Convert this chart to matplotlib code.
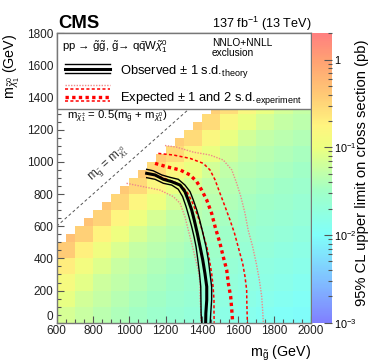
import numpy as np
import matplotlib
matplotlib.use("Agg")
import matplotlib.pyplot as plt
from matplotlib.colors import LinearSegmentedColormap, LogNorm
from matplotlib.patches import Rectangle
from matplotlib.ticker import MultipleLocator, FixedLocator, NullFormatter, LogLocator

plt.rcParams['font.family'] = ['Liberation Sans', 'DejaVu Sans']
plt.rcParams['mathtext.fontset'] = 'custom'
plt.rcParams['mathtext.rm'] = 'Liberation Sans'
plt.rcParams['mathtext.it'] = 'Liberation Sans:italic'
plt.rcParams['mathtext.bf'] = 'Liberation Sans:bold'

# ---------------- data ----------------
nan = np.nan
gluino_edges = np.arange(600, 2001, 50)       # GeV
lsp_edges = np.arange(0, 1401, 50)            # GeV
# log10(upper limit [pb]) on a 100 GeV grid: rows m_LSP = 0..1300, cols m_gluino = 600..1900
log_limit_table = np.array([
    [-1.15, -1.24, -1.33, -1.41, -1.49, -1.56, -1.63, -1.69, -1.75, -1.81, -1.87, -1.92, -1.97, -2.02],
    [-1.03, -1.18, -1.27, -1.35, -1.43, -1.50, -1.57, -1.63, -1.69, -1.75, -1.81, -1.86, -1.91, -1.96],
    [-0.88, -1.06, -1.21, -1.29, -1.37, -1.44, -1.51, -1.57, -1.63, -1.69, -1.75, -1.80, -1.85, -1.90],
    [-0.68, -0.92, -1.10, -1.24, -1.32, -1.39, -1.46, -1.52, -1.58, -1.64, -1.70, -1.75, -1.80, -1.85],
    [-0.42, -0.71, -0.95, -1.12, -1.26, -1.33, -1.40, -1.46, -1.52, -1.58, -1.64, -1.69, -1.74, -1.79],
    [-0.31, -0.45, -0.74, -0.97, -1.14, -1.27, -1.34, -1.40, -1.46, -1.52, -1.58, -1.63, -1.68, -1.73],
    [nan, -0.34, -0.48, -0.76, -0.99, -1.15, -1.28, -1.34, -1.40, -1.46, -1.52, -1.57, -1.62, -1.67],
    [nan, nan, -0.37, -0.50, -0.78, -1.00, -1.16, -1.28, -1.34, -1.40, -1.46, -1.51, -1.56, -1.61],
    [nan, nan, nan, -0.40, -0.53, -0.80, -1.02, -1.17, -1.29, -1.35, -1.41, -1.46, -1.51, -1.56],
    [nan, nan, nan, nan, -0.42, -0.54, -0.81, -1.02, -1.17, -1.29, -1.35, -1.40, -1.45, -1.50],
    [nan, nan, nan, nan, nan, -0.43, -0.55, -0.81, -1.02, -1.17, -1.29, -1.34, -1.39, -1.44],
    [nan, nan, nan, nan, nan, nan, -0.44, -0.55, -0.81, -1.02, -1.17, -1.28, -1.33, -1.38],
    [nan, nan, nan, nan, nan, nan, nan, -0.44, -0.55, -0.81, -1.02, -1.16, -1.27, -1.32],
    [nan, nan, nan, nan, nan, nan, nan, nan, -0.45, -0.56, -0.82, -1.02, -1.16, -1.27],
])
min_mass_gap = 150  # cells shown only if m_LSP(low edge) <= m_gluino(low edge) - gap

obs_x = [1096, 1142, 1188, 1234, 1280, 1307, 1325, 1344, 1358, 1375, 1390, 1405, 1417, 1427, 1427, 1422, 1421]
obs_y = [929, 919, 892, 877, 856, 815, 763, 701, 639, 556, 473, 390, 307, 224, 141, 58, 0]
obs_up_x = [1096, 1132, 1179, 1225, 1270, 1307, 1335, 1353, 1372, 1388, 1406, 1423, 1436, 1445, 1454, 1454, 1449, 1446]
obs_up_y = [954, 945, 919, 904, 892, 856, 815, 763, 701, 639, 556, 473, 390, 307, 224, 141, 58, 0]
obs_dn_x = [1096, 1142, 1188, 1234, 1270, 1294, 1313, 1329, 1344, 1357, 1368, 1378, 1387, 1394, 1395, 1396, 1399]
obs_dn_y = [902, 892, 867, 856, 830, 784, 722, 659, 597, 535, 473, 390, 307, 224, 141, 58, 0]
exp_x = [1142, 1206, 1280, 1335, 1372, 1399, 1427, 1454, 1473, 1500, 1518, 1537, 1546, 1559, 1565, 1570]
exp_y = [991, 970, 950, 919, 877, 825, 763, 680, 597, 494, 410, 328, 245, 162, 79, 0]
exp_up1_x = [1160, 1243, 1335, 1408, 1445, 1473, 1500, 1528, 1555, 1580, 1605, 1625, 1638, 1647, 1648, 1651]
exp_up1_y = [1053, 1043, 1022, 991, 950, 888, 805, 722, 639, 556, 452, 369, 286, 203, 121, 0]
exp_dn1_x = [1110, 1150, 1200, 1250, 1290, 1320, 1345, 1365, 1385, 1405, 1427, 1442, 1454, 1462, 1467, 1467, 1468]
exp_dn1_y = [928, 915, 895, 875, 850, 810, 755, 700, 640, 560, 473, 390, 307, 224, 141, 60, 0]
exp_up2_x = [1197, 1261, 1353, 1445, 1518, 1565, 1592, 1615, 1638, 1655, 1680, 1700, 1717, 1730, 1735, 1739]
exp_up2_y = [1102, 1092, 1061, 1043, 1012, 950, 867, 784, 680, 577, 473, 369, 266, 162, 79, 0]
exp_dn2_x = [985, 1077, 1169, 1243, 1280, 1307, 1325, 1344, 1362, 1380, 1390, 1390, 1394, 1394]
exp_dn2_y = [867, 846, 825, 784, 743, 659, 577, 494, 410, 328, 245, 162, 79, 0]

diag_x = [600, 1330]
diag_y = [600, 1330]

x_ticks = [600, 800, 1000, 1200, 1400, 1600, 1800, 2000]
y_ticks = [0, 200, 400, 600, 800, 1000, 1200, 1400, 1600, 1800]
cb_ticks = [1e-3, 1e-2, 1e-1, 1]
cb_labels = ['10$^{-3}$', '10$^{-2}$', '10$^{-1}$', '1']

# ---------------- figure ----------------
W, H = 374, 363
fig = plt.figure(figsize=(W / 100, H / 100), dpi=100)
ax_l, ax_r, ax_t, ax_b = 56.7, 310.7, 33.3, 322.7
ax = fig.add_axes([ax_l / W, 1 - ax_b / H, (ax_r - ax_l) / W, (ax_b - ax_t) / H])
cax = fig.add_axes([312 / W, 1 - ax_b / H, 20 / W, (ax_b - ax_t) / H])

cmap = LinearSegmentedColormap.from_list('pal', [
    (0.000, (0.50, 0.50, 1.00)),
    (0.151, (0.50, 0.76, 1.00)),
    (0.303, (0.50, 1.00, 0.98)),
    (0.454, (0.63, 1.00, 0.78)),
    (0.606, (0.93, 1.00, 0.50)),
    (0.682, (1.00, 0.96, 0.50)),
    (0.788, (1.00, 0.79, 0.46)),
    (0.909, (1.00, 0.63, 0.45)),
    (1.000, (1.00, 0.50, 0.50)),
])
norm = LogNorm(vmin=1e-3, vmax=2.0)

limits = 10 ** np.kron(log_limit_table, np.ones((2, 2)))
A, B = np.meshgrid(gluino_edges[:-1], lsp_edges[:-1])
visible = B <= A - min_mass_gap
limits = np.ma.masked_where(~visible | ~np.isfinite(limits), limits)
mesh = ax.pcolormesh(gluino_edges, lsp_edges, limits, cmap=cmap, norm=norm,
                     shading='flat', edgecolors='none', antialiased=False, zorder=1)

pale = '#ef8a8a'
ax.plot(exp_dn2_x, exp_dn2_y, color=pale, lw=1.0, ls=(0, (1, 1)), zorder=3)
ax.plot(exp_up2_x, exp_up2_y, color=pale, lw=1.0, ls=(0, (1, 1)), zorder=3)
ax.plot(exp_dn1_x, exp_dn1_y, color='red', lw=1.1, ls=(0, (2, 1.5)), zorder=3)
ax.plot(exp_up1_x, exp_up1_y, color='red', lw=1.1, ls=(0, (2, 1.5)), zorder=3)
ax.plot(obs_dn_x, obs_dn_y, color='black', lw=1.0, zorder=4)
ax.plot(obs_up_x, obs_up_y, color='black', lw=1.0, zorder=4)
ax.plot(obs_x, obs_y, color='black', lw=2.2, zorder=4)
ax.plot(exp_x, exp_y, color='red', lw=2.4, ls=(0, (1, 1)), zorder=4)

ax.plot(diag_x, diag_y, color='#555555', lw=0.7, ls=(0, (3, 2.5)), zorder=2)
ax.text(884, 985, r'm$_{\tilde{\mathrm{g}}}$ = m$_{\tilde{\chi}^{0}_{1}}$', rotation=41.6,
        rotation_mode='anchor', ha='center', va='center', fontsize=8.5, color='#333333', zorder=2)

ax.set_xlim(600, 2000)
ax.set_ylim(0, 1800)
ax.xaxis.set_major_locator(FixedLocator(x_ticks))
ax.yaxis.set_major_locator(FixedLocator(y_ticks))
ax.xaxis.set_minor_locator(MultipleLocator(50))
ax.yaxis.set_minor_locator(MultipleLocator(50))
ax.tick_params(which='both', direction='in', top=False, right=False, color='#555555', width=0.8,
               labelsize=8.5, labelcolor='#222222')
ax.tick_params(which='major', length=5)
ax.tick_params(which='minor', length=3)
ax.tick_params(axis='x', pad=2)
ax.tick_params(axis='y', pad=2.5)
for sp in ax.spines.values():
    sp.set_color('#777777')
    sp.set_linewidth(1.0)
# nudge the "0" label up so it does not sit on "600"
for lab in ax.get_yticklabels():
    if lab.get_text() == '0':
        lab.set_verticalalignment('bottom')

# legend box
ybox = (ax_b - 109) / (ax_b - ax_t)
ax.add_patch(Rectangle((0, ybox), 1, 1 - ybox, transform=ax.transAxes, facecolor='white',
                       edgecolor='#777777', lw=1.0, zorder=5, clip_on=False))


def fx(px):
    return (px - ax_l) / (ax_r - ax_l)


def fy(py):
    return (ax_b - py) / (ax_b - ax_t)


ax.text(fx(62), fy(47),
        'pp \u2192 ' + r'$\tilde{\mathrm{g}}\tilde{\mathrm{g}}$, $\tilde{\mathrm{g}}$' + '\u2192 q'
        + r'$\bar{\mathrm{q}}$W$\tilde{\chi}^{0}_{1}$',
        transform=ax.transAxes, ha='left', va='center', fontsize=8.2, zorder=6)
ax.text(fx(212), fy(43), 'NNLO+NNLL', transform=ax.transAxes, ha='left', va='center', fontsize=7.3, zorder=6)
ax.text(fx(212), fy(53), 'exclusion', transform=ax.transAxes, ha='left', va='center', fontsize=7.3, zorder=6)

lx = [fx(65), fx(110)]
ax.plot(lx, [fy(64.3)] * 2, transform=ax.transAxes, color='black', lw=1.0, zorder=6)
ax.plot(lx, [fy(69.3)] * 2, transform=ax.transAxes, color='black', lw=2.2, zorder=6)
ax.plot(lx, [fy(73.3)] * 2, transform=ax.transAxes, color='black', lw=1.0, zorder=6)
ax.text(fx(120), fy(71.7), r'Observed $\pm$ 1 s.d.$_{\mathrm{theory}}$', transform=ax.transAxes,
        ha='left', va='center', fontsize=9.3, zorder=6)

ax.plot(lx, [fy(85)] * 2, transform=ax.transAxes, color=pale, lw=1.0, ls=(0, (1, 1)), zorder=6)
ax.plot(lx, [fy(89)] * 2, transform=ax.transAxes, color='red', lw=1.1, ls=(0, (2, 1.5)), zorder=6)
ax.plot(lx, [fy(96.5)] * 2, transform=ax.transAxes, color='red', lw=2.4, ls=(0, (1, 1)), zorder=6)
ax.plot(lx, [fy(100.5)] * 2, transform=ax.transAxes, color='red', lw=1.1, ls=(0, (2, 1.5)), zorder=6)
ax.text(fx(120), fy(98), r'Expected $\pm$ 1 and 2 s.d.$_{\mathrm{experiment}}$', transform=ax.transAxes,
        ha='left', va='center', fontsize=9.3, zorder=6)

ax.text(fx(66.7), fy(116),
        r'm$_{\tilde{\chi}^{\pm}_{1}}$ = 0.5(m$_{\tilde{\mathrm{g}}}$ + m$_{\tilde{\chi}^{0}_{1}}$)',
        transform=ax.transAxes, ha='left', va='center', fontsize=8.2, zorder=6)

# axis labels
fig.text(ax_r / W, 1 - 357 / H, r'm$_{\tilde{\mathrm{g}}}$ (GeV)', ha='right', va='baseline', fontsize=10.3)
fig.text(15 / W, 1 - ax_t / H, r'm$_{\tilde{\chi}^{0}_{1}}$ (GeV)', rotation=90, rotation_mode='anchor',
         ha='right', va='baseline', fontsize=10.3)
fig.text(58 / W, 1 - 28 / H, 'CMS', fontsize=13.3, fontweight='bold', ha='left', va='baseline')
fig.text(311 / W, 1 - 28 / H, r'137 fb$^{-1}$ (13 TeV)', fontsize=9.1, ha='right', va='baseline')

# colorbar
cb = fig.colorbar(mesh, cax=cax)
cb.outline.set_linewidth(0)
cax.yaxis.set_ticks_position('right')
cax.set_yticks(cb_ticks)
cax.set_yticklabels(cb_labels)
cax.yaxis.set_minor_locator(LogLocator(base=10, subs=np.arange(2, 10)))
cax.yaxis.set_minor_formatter(NullFormatter())
cax.tick_params(which='both', direction='in', color='#555555', width=0.8, labelsize=7.8, pad=1.5)
cax.tick_params(which='major', length=6)
cax.tick_params(which='minor', length=3)
fig.text(366 / W, 1 - 40 / H, '95% CL upper limit on cross section (pb)', rotation=90,
         rotation_mode='anchor', ha='right', va='baseline', fontsize=10.6)

fig.savefig('out.png', dpi=100)
